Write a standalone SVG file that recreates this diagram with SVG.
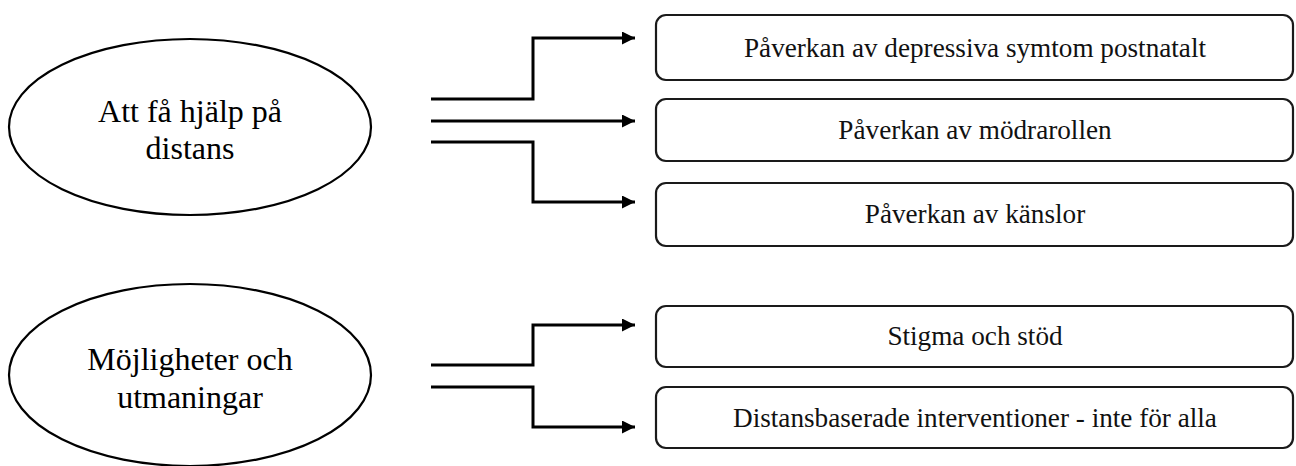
<svg xmlns="http://www.w3.org/2000/svg" width="1296" height="466" viewBox="0 0 1296 466">
  <style>
    .bg { fill: #ffffff; }
    .theme { fill: #ffffff; stroke: #000000; stroke-width: 2.2; }
    .box { fill: #ffffff; stroke: #1a1a1a; stroke-width: 2.2; }
    .t-theme { font-family: 'Liberation Serif', 'Times New Roman', serif; font-size: 32px; fill: #000000; text-anchor: middle; }
    .t-box { font-family: 'Liberation Serif', 'Times New Roman', serif; font-size: 27.2px; fill: #111111; text-anchor: middle; }
    .conn { fill: none; stroke: #000000; stroke-width: 3; stroke-linejoin: miter; }
  </style>
  <defs>
    <marker id="arrow" markerWidth="14" markerHeight="14" refX="13" refY="6.5" orient="auto" markerUnits="userSpaceOnUse">
      <path d="M0,0 L13,6.5 L0,13 Z" fill="#000000"/>
    </marker>
  </defs>

  <rect class="bg" x="0" y="0" width="1296" height="466"/>

  <!-- Theme 1 -->
  <g id="theme-distans">
    <ellipse class="theme" cx="190" cy="127" rx="181" ry="88"/>
    <text class="t-theme" x="190" y="122">Att få hjälp på</text>
    <text class="t-theme" x="190" y="159">distans</text>
  </g>

  <!-- Theme 2 -->
  <g id="theme-mojligheter">
    <ellipse class="theme" cx="190" cy="375" rx="181" ry="91"/>
    <text class="t-theme" x="190" y="370">Möjligheter och</text>
    <text class="t-theme" x="190" y="408">utmaningar</text>
  </g>

  <!-- Sub-themes of theme 1 -->
  <g id="sub-depressiva">
    <rect class="box" x="656" y="15" width="637" height="65" rx="10"/>
    <text class="t-box" x="975" y="57">Påverkan av depressiva symtom postnatalt</text>
  </g>
  <g id="sub-modrarollen">
    <rect class="box" x="656" y="99" width="637" height="62" rx="10"/>
    <text class="t-box" x="975" y="139">Påverkan av mödrarollen</text>
  </g>
  <g id="sub-kanslor">
    <rect class="box" x="656" y="183" width="637" height="63" rx="10"/>
    <text class="t-box" x="975" y="223">Påverkan av känslor</text>
  </g>

  <!-- Sub-themes of theme 2 -->
  <g id="sub-stigma">
    <rect class="box" x="656" y="306" width="637" height="61" rx="10"/>
    <text class="t-box" x="975" y="345">Stigma och stöd</text>
  </g>
  <g id="sub-distansbaserade">
    <rect class="box" x="656" y="387" width="637" height="61" rx="10"/>
    <text class="t-box" x="975" y="427">Distansbaserade interventioner - inte för alla</text>
  </g>

  <!-- Connectors -->
  <g id="connectors">
    <path class="conn" d="M431,99 H533 V38 H635" marker-end="url(#arrow)"/>
    <path class="conn" d="M431,121 H635" marker-end="url(#arrow)"/>
    <path class="conn" d="M431,142 H533 V202 H635" marker-end="url(#arrow)"/>
    <path class="conn" d="M431,365 H533 V325 H635" marker-end="url(#arrow)"/>
    <path class="conn" d="M431,387 H533 V427 H635" marker-end="url(#arrow)"/>
  </g>
</svg>
